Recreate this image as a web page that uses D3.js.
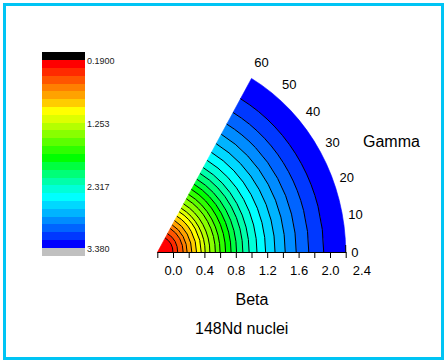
<!DOCTYPE html>
<html>
<head>
<meta charset="utf-8">
<script src="https://cdn.jsdelivr.net/npm/d3@7"></script>
<style>
  body { margin: 0; background: #fff; }
  svg text { font-family: Arial, "Liberation Sans", sans-serif; }
</style>
</head>
<body>
<div id="chart"></div>
<script>
// contour levels (colour bar bins), low -> high
const levels = [0.190, 0.323, 0.456, 0.589, 0.722, 0.855, 0.988, 1.120, 1.253,
  1.386, 1.519, 1.652, 1.785, 1.918, 2.051, 2.184, 2.317, 2.450, 2.583, 2.716,
  2.849, 2.981, 3.114, 3.247, 3.380];
const bandColors = ['#ff0000', '#ff2a00', '#ff5500', '#ff7f00', '#ffa200', '#ffcc00',
  '#ffff00', '#ddff00', '#b4ff00', '#88ff00', '#5cff00', '#2eff00', '#00ff00',
  '#00ff40', '#00ff78', '#00ffaa', '#00ffd8', '#00ffff', '#00d8ff', '#00b4ff',
  '#008cff', '#0064ff', '#0038ff', '#0000ff'];
const belowColor = '#000000';
const aboveColor = '#c0c0c0';
const barTicks = [0.19, 1.253, 2.317, 3.38];
const barTickText = ['0.1900', '1.253', '2.317', '3.380'];

// radius (beta) where each contour level crosses
const contourBeta = [0.20, 0.26, 0.33, 0.38, 0.44, 0.50, 0.56, 0.61, 0.67, 0.74,
  0.80, 0.87, 0.94, 1.01, 1.09, 1.17, 1.27, 1.38, 1.50, 1.63, 1.77, 1.93, 2.12];
const sectorBeta = 2.4;
const sectorGamma = 60;

const betaTicks = [-0.2, 0, 0.2, 0.4, 0.6, 0.8, 1.0, 1.2, 1.4, 1.6, 1.8, 2.0, 2.2];
const betaLabels = [0, 0.4, 0.8, 1.2, 1.6, 2.0, 2.4];
const gammaTicks = [0, 10, 20, 30, 40, 50, 60];

const W = 445, H = 363;
const svg = d3.select('#chart').append('svg').attr('width', W).attr('height', H);

svg.append('rect')
  .attr('x', 4.5).attr('y', 4.5).attr('width', 438).attr('height', 354)
  .attr('fill', '#fff').attr('stroke', '#00c4f4').attr('stroke-width', 3);

// ---- colour bar
const cbX = 42, cbW = 43;
const cbY = d3.scaleLinear().domain([levels[0], levels[levels.length - 1]]).range([60, 248]);
const bar = svg.append('g').attr('shape-rendering', 'crispEdges');
bar.selectAll('rect.band').data(bandColors).join('rect')
  .attr('class', 'band')
  .attr('x', cbX).attr('width', cbW)
  .attr('y', (d, i) => cbY(levels[i]))
  .attr('height', (d, i) => cbY(levels[i + 1]) - cbY(levels[i]))
  .attr('fill', d => d);
bar.append('rect').attr('x', cbX).attr('width', cbW)
  .attr('y', cbY(levels[0]) - 8).attr('height', 8).attr('fill', belowColor);
bar.append('rect').attr('x', cbX).attr('width', cbW)
  .attr('y', cbY(levels[levels.length - 1])).attr('height', 8).attr('fill', aboveColor);
svg.selectAll('text.cb').data(barTicks).join('text')
  .attr('class', 'cb')
  .attr('x', cbX + cbW + 2).attr('y', d => cbY(d) + 1)
  .attr('dy', '0.35em')
  .attr('font-size', 9).attr('fill', '#222')
  .text((d, i) => barTickText[i]);

// ---- polar contour sector
const ox = 157.3, oy = 252.5;
const rPx = 188.4;
const yStretch = 201 / rPx;
const r = d3.scaleLinear().domain([0, sectorBeta]).range([0, rPx]);
const gArc = d3.scaleLinear().domain([0, 60]).range([Math.PI / 2, Math.PI / 6]); // d3.arc angles
const gRad = d3.scaleLinear().domain([0, 60]).range([0, -Math.PI / 3]);         // svg angles

const plot = svg.append('g')
  .attr('transform', 'translate(' + ox + ',' + oy + ') scale(1,' + yStretch + ')');

const bounds = [0].concat(contourBeta, [sectorBeta]);
const arc = d3.arc().startAngle(gArc(sectorGamma)).endAngle(gArc(0));
plot.selectAll('path.band').data(bandColors).join('path')
  .attr('class', 'band')
  .attr('d', (d, i) => arc({ innerRadius: r(bounds[i]), outerRadius: r(bounds[i + 1]) }))
  .attr('fill', d => d)
  .attr('stroke', d => d).attr('stroke-width', 0.6)
  .attr('vector-effect', 'non-scaling-stroke');

plot.selectAll('path.contour').data(contourBeta).join('path')
  .attr('class', 'contour')
  .attr('d', b => {
    const p = d3.path();
    p.arc(0, 0, r(b), gRad(0), gRad(sectorGamma), true);
    return p.toString();
  })
  .attr('fill', 'none').attr('stroke', '#000').attr('stroke-width', 1)
  .attr('vector-effect', 'non-scaling-stroke');

// ---- beta axis
const xb = d3.scaleLinear().domain([-0.2, 2.2]).range([ox, ox + rPx]);
const axG = svg.append('g').attr('transform', 'translate(0,' + Math.floor(oy) + ')');
axG.call(d3.axisBottom(xb).tickValues(betaTicks).tickSize(6).tickSizeOuter(0).tickFormat(''));
const lbG = svg.append('g').attr('transform', 'translate(0,' + Math.floor(oy) + ')');
lbG.call(d3.axisBottom(xb).tickValues(betaLabels).tickSize(0).tickPadding(14)
  .tickFormat(d3.format('.1f')));
lbG.select('.domain').remove();
lbG.selectAll('text').attr('font-size', 13).attr('fill', '#000')
  .attr('font-family', 'Arial, "Liberation Sans", sans-serif');
axG.selectAll('path, line').attr('stroke', '#000');

// end tick of gamma scale
svg.append('line')
  .attr('x1', xb(2.2)).attr('x2', xb(2.2))
  .attr('y1', Math.floor(oy)).attr('y2', Math.floor(oy) - 7)
  .attr('stroke', '#000');

// ---- gamma labels round the arc
const labRho = 2.47;
svg.selectAll('text.gam').data(gammaTicks).join('text')
  .attr('class', 'gam')
  .attr('x', d => ox + r(labRho) * Math.cos(-gRad(d)))
  .attr('y', d => oy - r(labRho) * yStretch * Math.sin(-gRad(d)) - 13 * Math.sin(-gRad(d)))
  .attr('dy', '0.35em')
  .attr('font-size', 13).attr('fill', '#000')
  .text(d => d);

svg.append('text').attr('x', 363).attr('y', 146.5)
  .attr('font-size', 16).attr('fill', '#000').text('Gamma');
svg.append('text').attr('x', 252).attr('y', 304.5).attr('text-anchor', 'middle')
  .attr('font-size', 16).attr('fill', '#000').text('Beta');
svg.append('text').attr('x', 241.7).attr('y', 334).attr('text-anchor', 'middle')
  .attr('font-size', 16).attr('fill', '#000').text('148Nd nuclei');
</script>
</body>
</html>
